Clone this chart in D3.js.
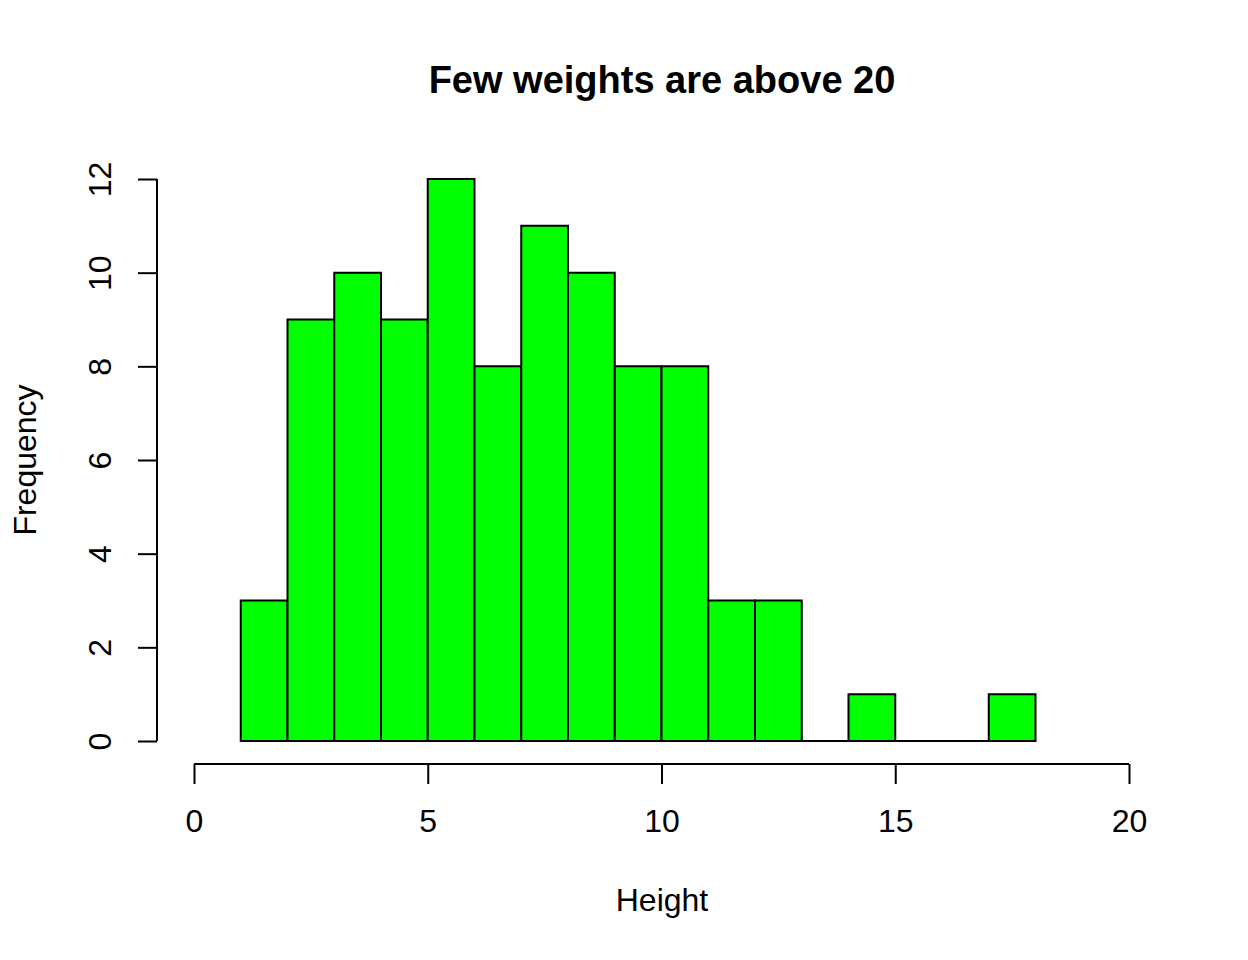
<!DOCTYPE html>
<html><head><meta charset="utf-8">
<script src="https://cdn.jsdelivr.net/npm/d3@7"></script>
<style>body{margin:0;background:#fff}svg{display:block}text{font-family:"Liberation Sans",Arial,sans-serif}</style>
</head><body>
<svg id="c" width="1248" height="960"></svg>
<script>
const binStarts = [1,2,3,4,5,6,7,8,9,10,11,12,13,14,15,16,17];
const counts    = [3,9,10,9,12,8,11,10,8,8,3,3,0,1,0,0,1];
const xTicks = [0,5,10,15,20];
const yTicks = [0,2,4,6,8,10,12];
const title = "Few weights are above 20";
const xLabel = "Height";
const yLabel = "Frequency";

const svg = d3.select("#c");
const x = d3.scaleLinear().domain([0,20]).range([194,1129]);
const y = d3.scaleLinear().domain([0,12]).range([741,179]);

svg.append("g").selectAll("path").data(binStarts).join("path")
  .attr("d", (d,i)=>{
    const x0=x(d), x1=x(d+1), y0=y(0), y1=y(counts[i]);
    return `M${x0},${y0}L${x0},${y1}L${x1},${y1}L${x1},${y0}Z`;
  })
  .attr("fill","#00ff00").attr("stroke","#000").attr("stroke-width",2);

const xa = svg.append("g").attr("transform","translate(0,764)")
  .call(d3.axisBottom(x).tickValues(xTicks).tickSize(20).tickPadding(25).tickFormat(d3.format("d")));
const ya = svg.append("g").attr("transform","translate(157,0)")
  .call(d3.axisLeft(y).tickValues(yTicks).tickSize(19).tickPadding(15).tickFormat(d3.format("d")));
[xa,ya].forEach(a=>{
  a.select(".domain").attr("stroke","#000").attr("stroke-width",2);
  a.selectAll(".tick line").attr("stroke","#000").attr("stroke-width",2);
  a.selectAll(".tick text").attr("fill","#000").style("font-size","32px");
});
xa.select(".domain").attr("d",`M${x(0)},0H${x(20)}`);
ya.select(".domain").attr("d",`M0,${y(0)}V${y(12)}`);
ya.selectAll(".tick text").attr("text-anchor","middle").attr("dy",null)
  .attr("transform", "translate(-57,0) rotate(-90)")
  .attr("x",0).attr("y",11);

svg.append("text").attr("x",662).attr("y",93).attr("text-anchor","middle")
  .style("font-size","38px").style("font-weight","bold").text(title);
svg.append("text").attr("x",662).attr("y",911).attr("text-anchor","middle")
  .style("font-size","32px").text(xLabel);
svg.append("text").attr("transform","translate(36,460) rotate(-90)").attr("text-anchor","middle")
  .style("font-size","32px").text(yLabel);
</script>
</body></html>
